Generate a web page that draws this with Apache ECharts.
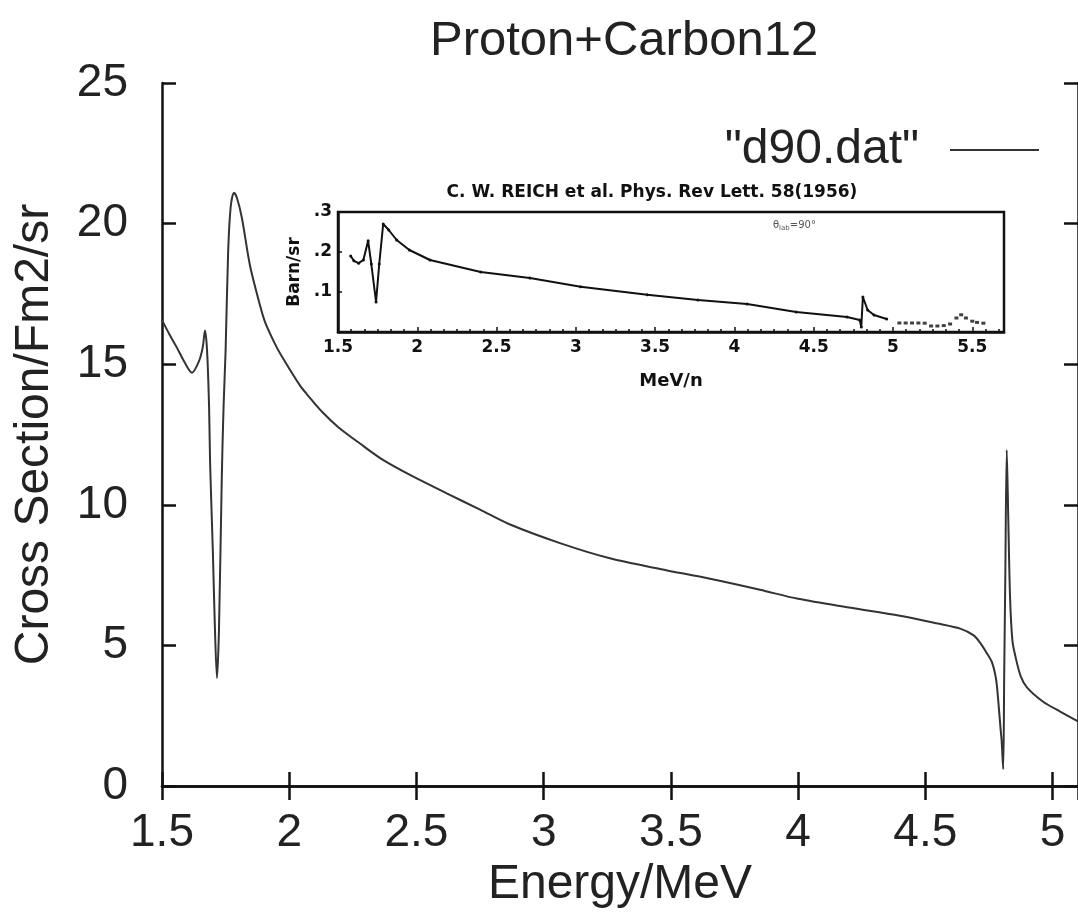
<!DOCTYPE html>
<html><head><meta charset="utf-8">
<script src="https://cdn.jsdelivr.net/npm/echarts@6/dist/echarts.min.js"></script>
<style>html,body{margin:0;padding:0;background:#fff}#c{width:1078px;height:914px}</style>
</head><body><div id="c"></div>
<script>
// Main curve: "d90.dat" (Energy/MeV vs Cross Section/Fm2/sr)
const mainEnergy = [1.500,1.530,1.558,1.590,1.618,1.645,1.660,1.669,1.677,1.685,1.689,1.700,1.708,1.716,1.724,1.735,1.742,1.750,1.760,1.770,1.783,1.795,1.814,1.846,1.885,1.905,1.951,1.983,2.042,2.069,2.130,2.193,2.278,2.370,2.488,2.619,2.750,2.868,3.064,3.260,3.457,3.654,3.850,4.000,4.200,4.400,4.550,4.637,4.690,4.715,4.740,4.762,4.778,4.786,4.796,4.800,4.806,4.810,4.814,4.820,4.826,4.833,4.842,4.853,4.875,4.900,4.963,5.030,5.100];
const mainCross  = [16.57,16.05,15.6,15.05,14.7,15.1,15.6,16.2,15.5,13.5,11.5,8.3,5.6,3.84,5.6,11.0,13.5,15.5,19.0,20.6,21.1,20.9,20.2,18.5,17.1,16.5,15.6,15.1,14.25,13.94,13.3,12.76,12.18,11.59,11.0,10.41,9.83,9.3,8.64,8.1,7.72,7.37,6.98,6.66,6.35,6.06,5.78,5.6,5.36,5.1,4.75,4.4,3.8,3.1,2.0,1.6,0.6,4.0,7.2,11.95,9.5,6.7,5.2,4.65,3.9,3.5,3.0,2.65,2.3];

// Inset: C. W. Reich et al. measured data (MeV/n vs Barn/sr)
const insetEnergy = [1.58,1.60,1.63,1.66,1.69,1.71,1.74,1.76,1.785,1.82,1.87,1.95,2.08,2.40,2.71,3.03,3.45,3.77,4.08,4.39,4.71,4.79,4.80,4.81,4.84,4.88,4.96];
const insetBarn   = [0.19,0.178,0.172,0.18,0.228,0.17,0.075,0.17,0.27,0.255,0.23,0.205,0.18,0.15,0.135,0.113,0.093,0.08,0.07,0.05,0.0375,0.03,0.0125,0.0875,0.055,0.0425,0.0325];
const insetDotEnergy = [5.04,5.08,5.12,5.16,5.20,5.24,5.28,5.32,5.36,5.40,5.43,5.46,5.50,5.53,5.57];
const insetDotBarn   = [0.0225,0.0225,0.0225,0.0225,0.022,0.015,0.015,0.016,0.02,0.035,0.043,0.035,0.027,0.024,0.022];

const mainFont = "'Liberation Sans', Arial, Helvetica, sans-serif";
const insetFont = "'DejaVu Sans', Verdana, sans-serif";

const zip = (a, b) => a.map((v, i) => [v, b[i]]);
const halfStep = v => Math.abs(v * 2 - Math.round(v * 2)) < 1e-6;

const chart = echarts.init(document.getElementById('c'), null, {renderer: 'canvas'});
const axisLine = {show: true, lineStyle: {color: '#111', width: 2.5}};
chart.setOption({
  animation: false,
  backgroundColor: '#fff',
  title: {
    text: 'Proton+Carbon12', left: 425, top: 12,
    textStyle: {fontFamily: mainFont, fontSize: 49, fontWeight: 'normal', color: '#222'}
  },
  legend: {
    data: [{name: '"d90.dat"', icon: 'rect'}], right: 34, top: 121, align: 'right',
    itemWidth: 89, itemHeight: 2, selectedMode: false,
    textStyle: {fontFamily: mainFont, fontSize: 48, color: '#222', padding: [0, 26, 0, 0]}
  },
  graphic: [{
    type: 'text', x: 652, y: 193,
    style: {
      text: 'C. W. REICH et al. Phys. Rev Lett. 58(1956)', align: 'center', verticalAlign: 'middle',
      font: "bold 17px 'DejaVu Sans', Verdana, sans-serif", fill: '#111'
    }
  }, {
    type: 'text', left: 773, top: 220,
    style: {
      text: '{a|θ}{b|lab}{a|=90°}',
      rich: {a: {fontSize: 10, fill: '#555', fontFamily: insetFont}, b: {fontSize: 7, fill: '#555', fontFamily: insetFont, verticalAlign: 'bottom', padding: [6, 0, 0, 0]}}
    }
  }],
  grid: [
    {left: 162, right: -2, top: 83, bottom: 122},
    {left: 338, right: 74, top: 212, bottom: 582, show: true, borderColor: '#111', borderWidth: 2.5, backgroundColor: '#fff'}
  ],
  xAxis: [
    {type: 'value', gridIndex: 0, min: 1.5, max: 5.1, interval: 0.5,
     name: 'Energy/MeV', nameLocation: 'middle', nameGap: 68,
     nameTextStyle: {fontFamily: mainFont, fontSize: 48, color: '#222'},
     axisLine: axisLine, splitLine: {show: false},
     axisTick: {inside: true, length: 14, lineStyle: {color: '#111', width: 2.5}},
     axisLabel: {margin: 24, fontFamily: mainFont, fontSize: 46, color: '#222', showMaxLabel: false,
       formatter: v => halfStep(v) ? String(v) : ''}},
    {type: 'value', gridIndex: 0, position: 'top', min: 1.5, max: 5.1, interval: 0.5,
     axisLine: axisLine, splitLine: {show: false}, axisLabel: {show: false},
     axisTick: {inside: true, length: 14, lineStyle: {color: '#111', width: 2.5}}},
    {type: 'value', gridIndex: 1, min: 1.5, max: 5.7, interval: 0.5,
     name: 'MeV/n', nameLocation: 'middle', nameGap: 40,
     nameTextStyle: {fontFamily: insetFont, fontSize: 18, fontWeight: 'bold', color: '#111'},
     axisLine: axisLine, splitLine: {show: false},
     axisTick: {inside: true, length: 5, lineStyle: {color: '#111', width: 1.5}},
     minorTick: {show: true, splitNumber: 6, length: 3, lineStyle: {color: '#111', width: 1.5}},
     axisLabel: {margin: 7, fontFamily: insetFont, fontSize: 17, fontWeight: 'bold', color: '#111', showMaxLabel: false,
       formatter: v => halfStep(v) ? String(v) : ''}}
  ],
  yAxis: [
    {type: 'value', gridIndex: 0, min: 0, max: 25, interval: 5,
     name: 'Cross Section/Fm2/sr', nameLocation: 'middle', nameGap: 103,
     nameTextStyle: {fontFamily: mainFont, fontSize: 48, color: '#222'},
     axisLine: axisLine, splitLine: {show: false},
     axisTick: {inside: true, length: 14, lineStyle: {color: '#111', width: 2.5}},
     axisLabel: {margin: 34, fontFamily: mainFont, fontSize: 46, color: '#222'}},
    {type: 'value', gridIndex: 0, position: 'right', min: 0, max: 25, interval: 5,
     axisLine: axisLine, splitLine: {show: false}, axisLabel: {show: false},
     axisTick: {inside: true, length: 14, lineStyle: {color: '#111', width: 2.5}}},
    {type: 'value', gridIndex: 1, min: 0, max: 0.3, interval: 0.1,
     name: 'Barn/sr', nameLocation: 'middle', nameGap: 25,
     nameTextStyle: {fontFamily: insetFont, fontSize: 17, fontWeight: 'bold', color: '#111'},
     axisLine: axisLine, splitLine: {show: false},
     axisTick: {inside: true, length: 4, lineStyle: {color: '#111', width: 1.5}},
     axisLabel: {margin: 6, fontFamily: insetFont, fontSize: 17, fontWeight: 'bold', color: '#111',
       formatter: v => v === 0 ? '' : '.' + Math.round(v * 10)}}
  ],
  series: [
    {name: '"d90.dat"', type: 'line', xAxisIndex: 0, yAxisIndex: 0, data: zip(mainEnergy, mainCross),
     symbol: 'none', smooth: 0.3,
     lineStyle: {color: '#333', width: 2}, itemStyle: {color: '#333'}},
    {name: 'Reich', type: 'line', xAxisIndex: 2, yAxisIndex: 2, data: zip(insetEnergy, insetBarn),
     symbol: 'circle', symbolSize: 3, lineStyle: {color: '#111', width: 2}, itemStyle: {color: '#111'}},
    {name: 'Reich dots', type: 'scatter', xAxisIndex: 2, yAxisIndex: 2, data: zip(insetDotEnergy, insetDotBarn),
     symbol: 'rect', symbolSize: [4, 3], itemStyle: {color: '#111'}}
  ]
});
</script></body></html>
